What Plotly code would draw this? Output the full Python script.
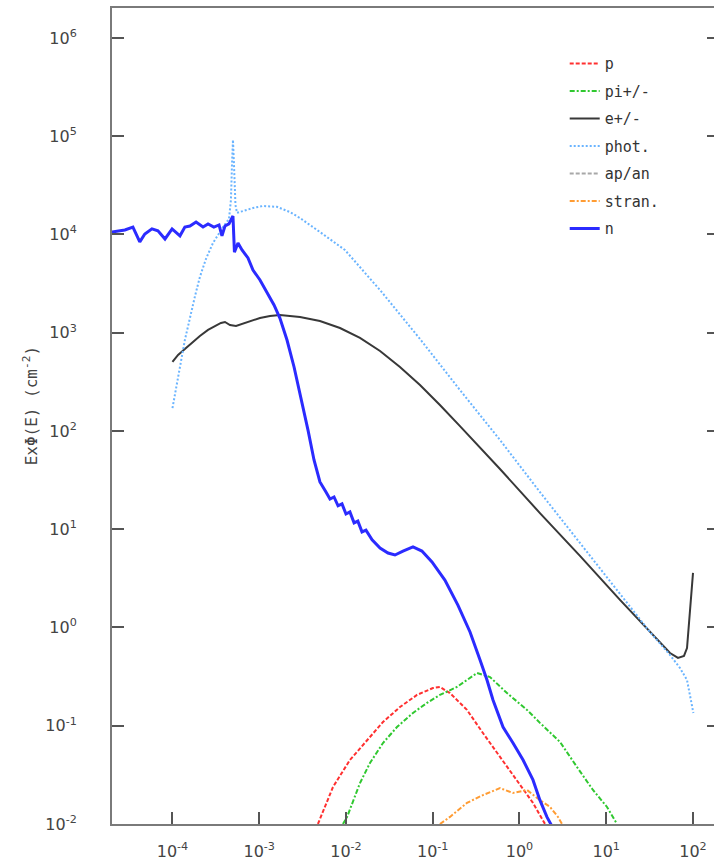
import plotly.graph_objects as go

# ---------------- data ----------------
n_E = [2.0e-5, 2.83e-5, 3.5e-5, 4.2e-5, 4.8e-5, 5.8e-5, 6.8e-5, 8.2e-5, 9.9e-5, 1.22e-4,
       1.39e-4, 1.59e-4, 1.87e-4, 2.25e-4, 2.57e-4, 3.0e-4, 3.44e-4, 3.72e-4, 4.03e-4, 4.48e-4,
       4.98e-4, 5.18e-4, 5.69e-4, 6.33e-4, 7.42e-4, 8.47e-4, 1.02e-3, 1.23e-3, 1.48e-3, 1.73e-3,
       2.09e-3, 2.52e-3, 2.95e-3, 3.65e-3, 4.28e-3, 5.01e-3, 5.88e-3, 6.54e-3, 7.28e-3, 8.1e-3,
       9.0e-3, 1.0e-2, 1.11e-2, 1.24e-2, 1.37e-2, 1.53e-2, 1.70e-2, 2.0e-2, 2.47e-2, 3.05e-2,
       3.67e-2, 4.54e-2, 5.92e-2, 7.5e-2, 9.8e-2, 0.138, 0.195, 0.269, 0.351, 0.422,
       0.495, 0.646, 0.842, 1.10, 1.43, 1.72, 2.07, 2.43]
n_V = [1.06e4, 1.11e4, 1.19e4, 8.4e3, 1.01e4, 1.14e4, 1.09e4, 9.0e3, 1.14e4, 9.7e3,
       1.19e4, 1.22e4, 1.34e4, 1.19e4, 1.28e4, 1.19e4, 1.25e4, 9.7e3, 1.22e4, 1.28e4,
       1.54e4, 6.6e3, 8.2e3, 6.95e3, 5.77e3, 4.35e3, 3.44e3, 2.54e3, 1.92e3, 1.41e3,
       843, 448, 244, 102, 50.7, 30.3, 23.9, 20.3, 21.3, 17.3,
       18.1, 14.3, 15.0, 11.6, 12.1, 9.4, 9.8, 7.8, 6.44, 5.73,
       5.47, 6.0, 6.6, 6.0, 4.65, 3.04, 1.69, 0.90, 0.467, 0.292,
       0.183, 0.097, 0.0667, 0.0448, 0.0281, 0.0175, 0.0118, 0.0091]

e_E = [1.0e-4, 1.16e-4, 1.39e-4, 1.72e-4, 2.07e-4, 2.57e-4, 3.09e-4, 3.62e-4, 4.03e-4, 4.6e-4,
       5.4e-4, 6.33e-4, 7.82e-4, 1.02e-3, 1.33e-3, 1.73e-3, 2.95e-3, 5.01e-3, 8.53e-3, 1.45e-2,
       2.47e-2, 4.19e-2, 7.13e-2, 0.121, 0.206, 0.596, 1.72, 4.98, 14.4, 31.9,
       54.3, 67.1, 78.7, 85.3, 89.9, 94.8, 100.0]
e_V = [504, 594, 684, 805, 927, 1067, 1172, 1257, 1286, 1199,
       1172, 1228, 1318, 1413, 1480, 1516, 1445, 1318, 1117, 885,
       652, 448, 294, 184, 112, 41, 14.6, 5.35, 1.91, 0.90,
       0.55, 0.49, 0.513, 0.618, 1.06, 2.14, 3.59]

ph_E = [1.0e-4, 1.10e-4, 1.22e-4, 1.39e-4, 1.59e-4, 1.82e-4, 2.07e-4, 2.43e-4, 2.93e-4, 3.82e-4,
        4.48e-4, 4.72e-4, 4.85e-4, 4.98e-4, 5.12e-4, 5.32e-4, 5.54e-4, 6.33e-4, 8.47e-4, 1.10e-3,
        1.60e-3, 2.26e-3, 2.95e-3, 5.01e-3, 9.73e-3, 2.47e-2, 7.13e-2, 0.206, 0.596, 1.72,
        4.98, 14.4, 31.9, 54.3, 70.8, 85.3, 92.3, 97.3, 101.0]
ph_V = [171, 261, 448, 844, 1446, 2366, 3690, 5630, 8190, 1.19e4,
        1.44e4, 2.24e4, 5.1e4, 9.2e4, 5.1e4, 2.0e4, 1.66e4, 1.73e4, 1.86e4, 1.95e4,
        1.91e4, 1.69e4, 1.47e4, 1.06e4, 6950, 2720, 864, 261, 81, 23.9,
        7.24, 2.19, 0.90, 0.525, 0.387, 0.292, 0.206, 0.163, 0.135]

p_E = [4.75e-3, 7.08e-3, 1.11e-2, 1.75e-2, 2.67e-2, 4.19e-2, 6.58e-2, 0.1006, 0.121, 0.158,
       0.248, 0.379, 0.596, 0.935, 1.43, 1.97]
p_V = [0.0100, 0.0238, 0.0448, 0.0716, 0.109, 0.155, 0.206, 0.242, 0.248, 0.215,
       0.145, 0.0843, 0.0481, 0.0281, 0.0164, 0.0100]

pi_E = [9.23e-3, 1.03e-2, 1.45e-2, 1.89e-2, 2.67e-2, 3.87e-2, 5.92e-2, 8.59e-2, 0.121, 0.190,
        0.324, 0.457, 0.718, 1.22, 1.72, 2.93, 4.60, 7.03, 10.2, 13.3]
pi_V = [0.0100, 0.0118, 0.0261, 0.0418, 0.0667, 0.097, 0.135, 0.171, 0.206, 0.248,
        0.344, 0.313, 0.215, 0.145, 0.107, 0.0684, 0.0380, 0.0222, 0.0149, 0.0100]

st_E = [0.121, 0.158, 0.248, 0.379, 0.596, 0.842, 1.22, 1.72, 2.25, 2.78, 3.09]
st_V = [0.0100, 0.0118, 0.0164, 0.0197, 0.0232, 0.0207, 0.0222, 0.0175, 0.0149, 0.0118, 0.0100]

# ap/an: listed in the legend, no visible curve inside the plotted range
ap_E = [None]
ap_V = [None]

x_tickvals = [1e-4, 1e-3, 1e-2, 1e-1, 1e0, 1e1, 1e2]
x_ticktext = ["10<sup>-4</sup>", "10<sup>-3</sup>", "10<sup>-2</sup>", "10<sup>-1</sup>",
              "10<sup>0</sup>", "10<sup>1</sup>", "10<sup>2</sup>"]
y_tickvals = [1e-2, 1e-1, 1e0, 1e1, 1e2, 1e3, 1e4, 1e5, 1e6]
y_ticktext = ["10<sup>-2</sup>", "10<sup>-1</sup>", "10<sup>0</sup>", "10<sup>1</sup>",
              "10<sup>2</sup>", "10<sup>3</sup>", "10<sup>4</sup>", "10<sup>5</sup>",
              "10<sup>6</sup>"]

# ---------------- figure ----------------
fig = go.Figure()

series = [
    ("p", p_E, p_V, dict(color="#ff3030", width=2, dash="4px,2px")),
    ("pi+/-", pi_E, pi_V, dict(color="#30c830", width=2, dash="5px,2px,2px,2px")),
    ("e+/-", e_E, e_V, dict(color="#383838", width=2)),
    ("phot.", ph_E, ph_V, dict(color="#6ab4ff", width=2, dash="2px,2px")),
    ("ap/an", ap_E, ap_V, dict(color="#a8a8a8", width=2, dash="4px,2px")),
    ("stran.", st_E, st_V, dict(color="#ff9c33", width=2, dash="5px,2px,2px,2px")),
    ("n", n_E, n_V, dict(color="#2b2bff", width=3)),
]
for name, xs, ys, ln in series:
    fig.add_trace(go.Scatter(x=xs, y=ys, mode="lines", name=name, line=ln,
                             legendgroup=name, hoverinfo="skip"))

# helper trace for the right-hand tick marks
fig.add_trace(go.Scatter(x=[None], y=[None], yaxis="y2", showlegend=False, hoverinfo="skip"))

axis_col = "#7a7a7a"
tick_font = dict(family="DejaVu Sans", size=16, color="#444444")

fig.update_layout(
    width=714, height=866,
    margin=dict(l=112, r=0, t=8, b=42),
    paper_bgcolor="white", plot_bgcolor="white",
    showlegend=True,
    legend=dict(x=0.752, y=0.952, xanchor="left", yanchor="top",
                font=dict(family="DejaVu Sans Mono", size=15, color="#333333"),
                bgcolor="rgba(0,0,0,0)", tracegroupgap=5, traceorder="grouped"),
    xaxis=dict(type="log", range=[-4.697, 2.242], tickvals=x_tickvals, ticktext=x_ticktext,
               ticks="inside", ticklen=12, tickwidth=2, tickcolor="#555555",
               showline=True, linecolor=axis_col, linewidth=2, mirror=True,
               showgrid=False, zeroline=False, tickfont=tick_font, ticklabelstandoff=12),
    yaxis=dict(type="log", range=[-2, 6.305], tickvals=y_tickvals, ticktext=y_ticktext,
               ticks="inside", ticklen=12, tickwidth=2, tickcolor="#555555",
               showline=True, linecolor=axis_col, linewidth=2, mirror=False,
               showgrid=False, zeroline=False, tickfont=tick_font, ticklabelstandoff=30),
    yaxis2=dict(type="log", range=[-2, 6.305], overlaying="y", side="right",
                tickvals=y_tickvals, showticklabels=False, ticks="inside", ticklen=7,
                tickwidth=2, tickcolor="#555555", showline=False, showgrid=False,
                zeroline=False),
    annotations=[dict(text="Ex\u03a6(E) (cm<sup>-2</sup>)", xref="paper", yref="paper",
                      x=-0.136, y=0.512, xanchor="center", yanchor="middle",
                      textangle=-90, showarrow=False,
                      font=dict(family="DejaVu Sans Mono", size=16, color="#444444"))],
)

fig.write_html("out.html")
